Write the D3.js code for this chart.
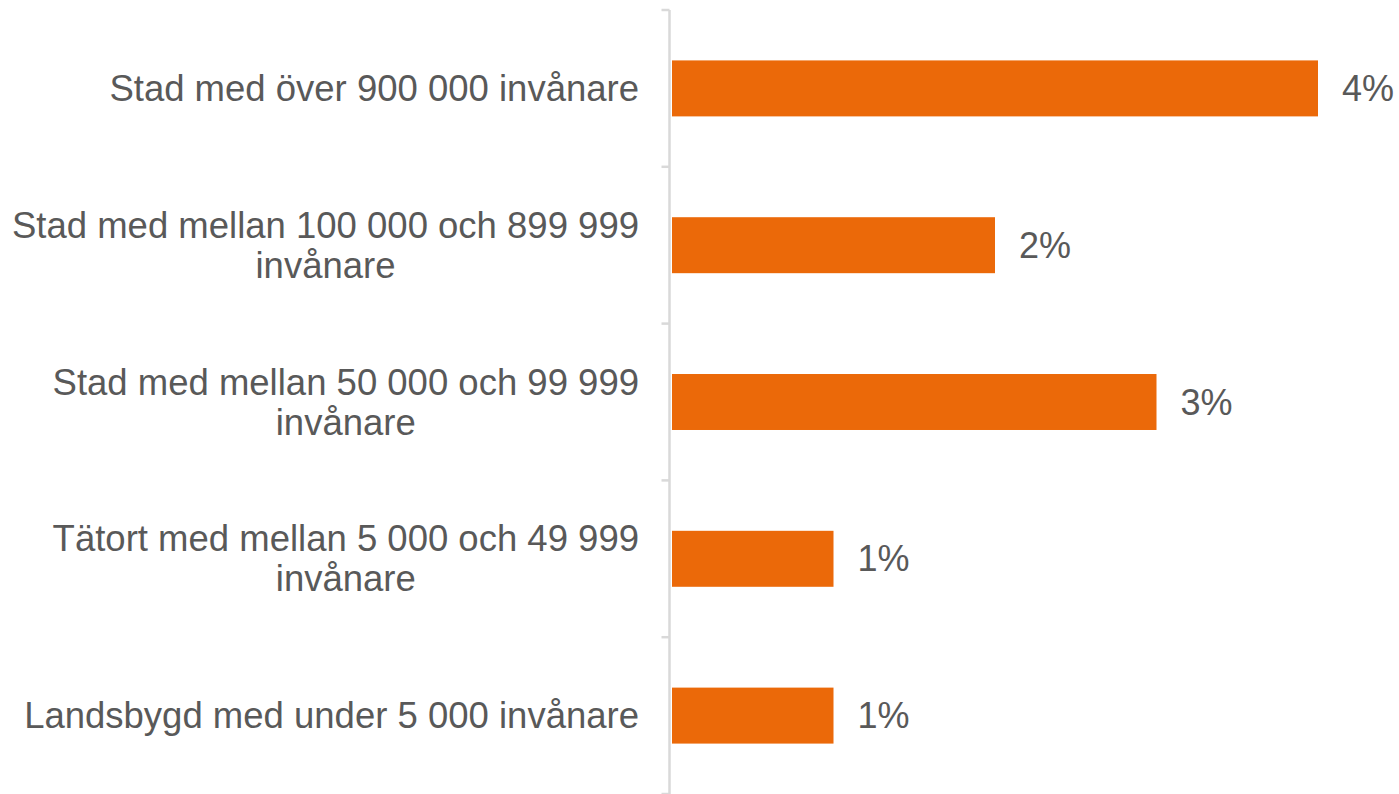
<!DOCTYPE html>
<html><head><meta charset="utf-8">
<script src="https://cdn.jsdelivr.net/npm/d3@7"></script>
<style>html,body{margin:0;padding:0;background:#fff;}svg{display:block;}</style>
</head><body>
<svg id="chart" width="1399" height="794"></svg>
<script>
const categories = [
  ["Stad med över 900 000 invånare"],
  ["Stad med mellan 100 000 och 899 999", "invånare"],
  ["Stad med mellan 50 000 och 99 999", "invånare"],
  ["Tätort med mellan 5 000 och 49 999", "invånare"],
  ["Landsbygd med under 5 000 invånare"]
];
const values = [4, 2, 3, 1, 1];
const valueLabels = ["4%", "2%", "3%", "1%", "1%"];

const svg = d3.select("#chart");
const W = 1399, H = 794;
const margin = {left: 671, right: 82, top: 10, bottom: 0};
const fontFam = "'Liberation Sans', Arial, sans-serif";
const fs = 36.5;
const textColor = "#595959";

const y = d3.scaleBand().domain(d3.range(categories.length))
  .range([margin.top, H - margin.bottom]).paddingInner(0.643).paddingOuter(0.3215);
const x = d3.scaleLinear().domain([0, 4]).range([margin.left, margin.left + 646]);

// bars
svg.selectAll("rect.bar").data(values).join("rect")
  .attr("class", "bar")
  .attr("x", x(0) + 1)
  .attr("y", (d, i) => y(i))
  .attr("width", d => x(d) - x(0))
  .attr("height", y.bandwidth())
  .attr("fill", "#EB6909");

// axis line
const step = y.step();
const axisX = 669.5;
svg.append("line").attr("x1", axisX).attr("x2", axisX)
  .attr("y1", margin.top).attr("y2", H).attr("stroke", "#d9d9d9").attr("stroke-width", 2.5);
// tick marks at boundaries
const bounds = d3.range(categories.length + 1).map(i => margin.top + i * step);
svg.selectAll("line.tick").data(bounds).join("line")
  .attr("class", "tick")
  .attr("x1", axisX - 8).attr("x2", axisX)
  .attr("y1", d => d).attr("y2", d => d)
  .attr("stroke", "#d9d9d9").attr("stroke-width", 2.5);

// category labels
const lineH = 40;
const labelRight = 639;
categories.forEach((lines, i) => {
  const cy = y(i) + y.bandwidth() / 2;
  const g = svg.append("g");
  const texts = lines.map((t, j) => g.append("text")
    .attr("font-family", fontFam).attr("font-size", fs).attr("fill", textColor)
    .attr("dominant-baseline", "central")
    .attr("y", cy + (j - (lines.length - 1) / 2) * lineH)
    .text(t));
  const widths = texts.map(t => t.node().getComputedTextLength());
  const maxW = Math.max(...widths);
  const center = labelRight - maxW / 2;
  texts.forEach(t => t.attr("x", center).attr("text-anchor", "middle"));
});

// value labels
svg.selectAll("text.val").data(values).join("text")
  .attr("class", "val")
  .attr("x", d => x(d) + 25)
  .attr("y", (d, i) => y(i) + y.bandwidth() / 2)
  .attr("dominant-baseline", "central")
  .attr("font-family", fontFam).attr("font-size", 36).attr("fill", textColor)
  .text((d, i) => valueLabels[i]);
</script>
</body></html>
